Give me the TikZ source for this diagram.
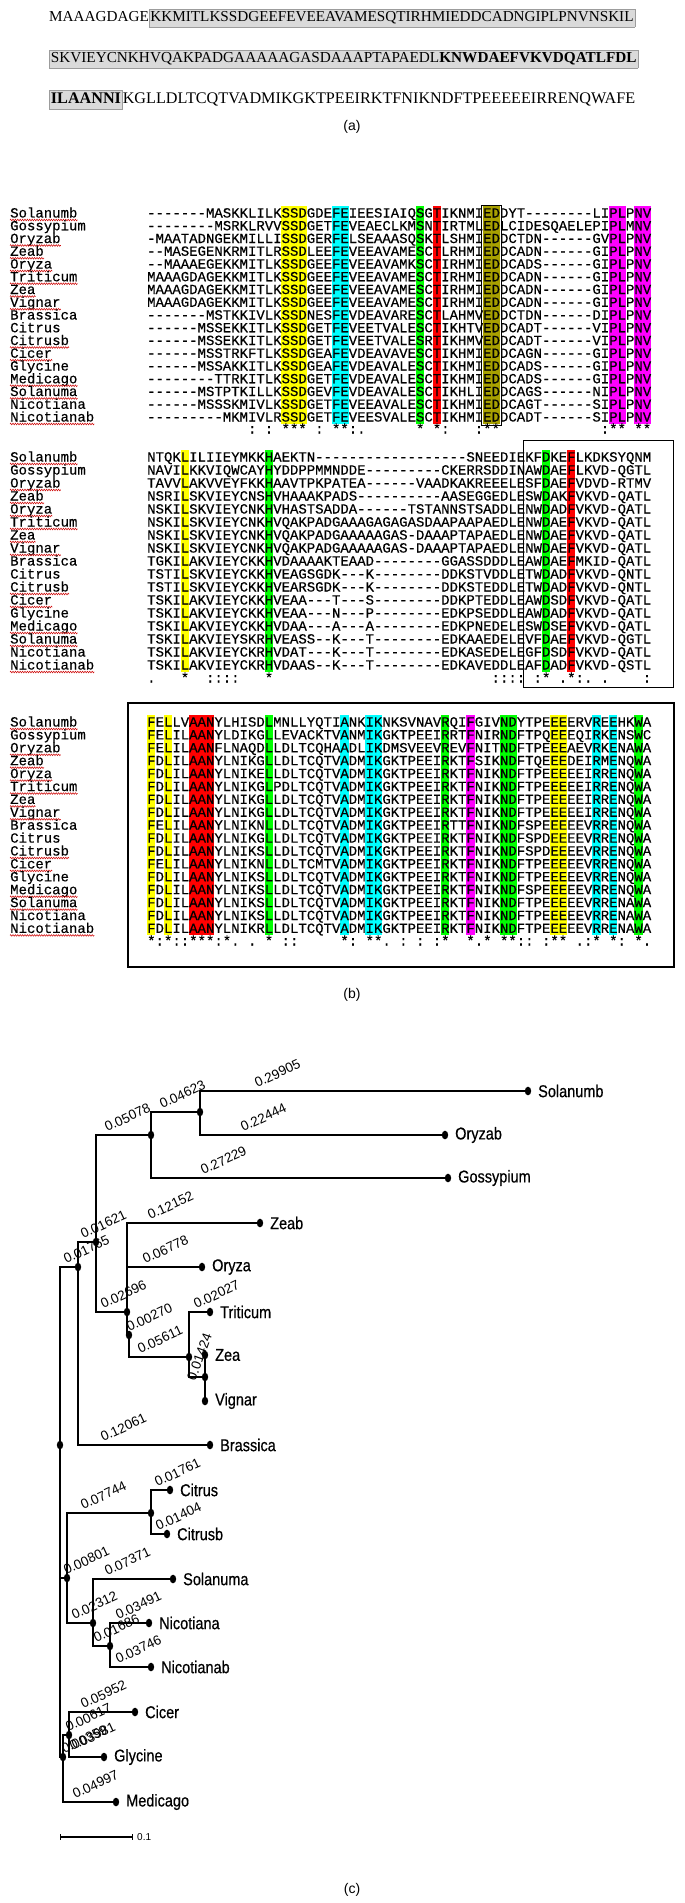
\documentclass[tikz,border=0pt]{standalone}
\usepackage{graphicx}
\usepackage{fontspec}
\setmainfont{Liberation Serif}
\setmonofont{Liberation Mono}[FakeBold=0.35]
\newfontfamily\sansf{Liberation Sans}
\newfontfamily\sansbf{Liberation Sans}[FakeBold=0.6]
\usetikzlibrary{decorations.pathmorphing}
\definecolor{hlgray}{HTML}{DADADA}
\definecolor{bxgray}{HTML}{9C9C9C}
\definecolor{hyel}{HTML}{FFFF00}
\definecolor{hcya}{HTML}{00FFFF}
\definecolor{hgrn}{HTML}{00FF00}
\definecolor{hred}{HTML}{FF0000}
\definecolor{hmag}{HTML}{FF00FF}
\definecolor{holv}{HTML}{A8A000}
\definecolor{sqred}{HTML}{D01010}
\newcommand\hlbox[1]{{\setlength\fboxsep{1pt}\setlength\fboxrule{0.6pt}\fcolorbox{bxgray}{hlgray}{\strut #1}}}
\newcommand\hlc[5]{\fill[#1] ({147+(#2-1)*8.4},#4) rectangle ({147+(#3)*8.4},#5);}
\tikzset{
  seqtxt/.style={anchor=base west, inner sep=0pt, font=\ttfamily\fontsize{14}{14}\selectfont},
  squig/.style={draw=sqred, line width=0.55pt, decorate, decoration={zigzag, amplitude=0.8pt, segment length=2.4pt}},
  sublab/.style={inner sep=0pt, font=\sansf\fontsize{14}{14}\selectfont},
  tree/.style={line width=1.8pt},
  leaflab/.style={anchor=west, xshift=8pt, inner sep=2pt, font=\sansbf\fontsize{14.5}{14.5}\selectfont},
  blab/.style={anchor=south west, rotate=25, inner sep=0.5pt, font=\sansf\fontsize{13.5}{13.5}\selectfont},
  seqline/.style={anchor=base west, inner sep=0pt}
}
\begin{document}
\begin{tikzpicture}[x=1pt,y=-1pt]
\useasboundingbox (0,0) rectangle (685,1903);
\fill[white] (0,0) rectangle (685,1903);

% ---------------- (a) ----------------
\node[seqline] (qa1) at (49,21) {\resizebox{586pt}{!}{\fontsize{15}{15}\selectfont MAAAGDAGE\hlbox{KKMITLKSSDGEEFEVEEAVAMESQTIRHMIEDDCADNGIPLPNVNSKIL}}};
\node[seqline] (qa2) at (49,62) {\resizebox{589pt}{!}{\fontsize{15}{15}\selectfont \hlbox{SKVIEYCNKHVQAKPADGAAAAAGASDAAAPTAPAEDL\textbf{KNWDAEFVKVDQATLFDL}}}};
\node[seqline] (qa3) at (49,103) {\resizebox{586pt}{!}{\fontsize{15}{15}\selectfont \hlbox{\textbf{ILAANNI}}KGLLDLTCQTVADMIKGKTPEEIRKTFNIKNDFTPEEEEEIRRENQWAFE}};
\node[sublab] (laba) at (352,127) {(a)};

% ---------------- (b) block 1 ----------------
\hlc{hyel}{17}{19}{206}{424}
\hlc{hcya}{23}{24}{206}{424}
\hlc{hgrn}{33}{33}{206}{424}
\hlc{hred}{35}{35}{206}{424}
\hlc{holv}{41}{42}{206}{424}
\hlc{hmag}{56}{57}{206}{424}
\hlc{hmag}{59}{60}{206}{424}
\draw[line width=0.9pt] ({147+40*8.4-1.5},205) rectangle ({147+42*8.4+1.5},425);
\foreach \i/\nm/\sq/\u in {
0/Solanumb/-------MASKKLILKSSDGDEFEIEESIAIQSGTIKNMIEDDYT--------LIPLPNV/1,
1/Gossypium/--------MSRKLRVVSSDGETFEVEAECLKMSNTIRTMLEDLCIDESQAELEPIPLMNV/0,
2/Oryzab/-MAATADNGEKMILLISSDGERFELSEAAASQSKTLSHMIEDDCTDN------GVPLPNV/1,
3/Zeab/--MASEGENKRMITLRSSDLEEFEVEEAVAMESCTLRHMIEDDCADN------GIPLPNV/1,
4/Oryza/--MAAAEGEKKMITLKSSDGEEFEVEEAVAMKSCTIRHMIEDDCADS------GIPLPNV/1,
5/Triticum/MAAAGDAGEKKMITLKSSDGEEFEVEEAVAMESCTIRHMIEDDCADN------GIPLPNV/1,
6/Zea/MAAAGDAGEKKMITLKSSDGEEFEVEEAVAMESCTIRHMIEDDCADN------GIPLPNV/1,
7/Vignar/MAAAGDAGEKKMITLKSSDGEEFEVEEAVAMESCTIRHMIEDDCADN------GIPLPNV/1,
8/Brassica/-------MSTKKIVLKSSDNESFEVDEAVARESCTLAHMVEDDCTDN------DIPLPNV/0,
9/Citrus/------MSSEKKITLKSSDGETFEVEETVALESCTIKHTVEDDCADT------VIPLPNV/0,
10/Citrusb/------MSSEKKITLKSSDGETFEVEETVALESRTIKHMVEDDCADT------VIPLPNV/1,
11/Cicer/------MSSTRKFTLKSSDGEAFEVDEAVAVESCTIKHMIEDDCAGN------GIPLPNV/1,
12/Glycine/------MSSAKKITLKSSDGEAFEVDEAVALESCTIKHMIEDDCADS------GIPLPNV/0,
13/Medicago/--------TTRKITLKSSDGETFEVDEAVALESCTIKHMIEDDCADS------GIPLPNV/1,
14/Solanuma/------MSTPTKILLKSSDGEVFEVDEAVALESCTIKHLIEDDCAGS------NIPLPNV/1,
15/Nicotiana/------MSSSKMIVLKSSDGETFEVEEAVALESCTIKHMIEDDCAGT------SIPLPNV/0,
16/Nicotianab/---------MKMIVLRSSDGETFEVEESVALESCTIKHMIEDDCADT------SIPLPNV/1}{
  \pgfmathsetmacro\yy{213+\i*12.75+4.5}
  \node[seqtxt] (aN\i) at (10,\yy) {\nm};
  \node[seqtxt] (aS\i) at (147,\yy) {\sq};
  \ifnum\u=1 \draw[squig] ([yshift=-2.5pt]aN\i.base west) -- ([yshift=-2.5pt]aN\i.base east);\fi
}
\foreach \c/\s [count=\k] in {13/:,15/:,17/***,21/:,23/**:.,33/*,35/*:,40/:**,55/:**,59/**}{
  \node[seqtxt] (aC\k) at ({147+(\c-1)*8.4},433.5) {\s};
}

% ---------------- (b) block 2 ----------------
\hlc{hyel}{5}{5}{450}{672}
\hlc{hgrn}{15}{15}{450}{672}
\hlc{hgrn}{48}{48}{450}{672}
\hlc{hred}{51}{51}{450}{672}
\draw[line width=1pt] (523,440) rectangle (673,687);
\foreach \i/\nm/\sq/\u in {
0/Solanumb/NTQKLILIIEYMKKHAEKTN------------------SNEEDIEKFDKEFLKDKSYQNM/1,
1/Gossypium/NAVILKKVIQWCAYHYDDPPMMNDDE---------CKERRSDDINAWDAEFLKVD-QGTL/0,
2/Oryzab/TAVVLAKVVEYFKKHAAVTPKPATEA------VAADKAKREEELESFDAEFVDVD-RTMV/1,
3/Zeab/NSRILSKVIEYCNSHVHAAAKPADS----------AASEGGEDLESWDAKFVKVD-QATL/1,
4/Oryza/NSKILSKVIEYCNKHVHASTSADDA------TSTANNSTSADDLENWDADFVKVD-QATL/1,
5/Triticum/NSKILSKVIEYCNKHVQAKPADGAAAGAGAGASDAAPAAPAEDLENWDAEFVKVD-QATL/1,
6/Zea/NSKILSKVIEYCNKHVQAKPADGAAAAAGAS-DAAAPTAPAEDLENWDAEFVKVD-QATL/1,
7/Vignar/NSKILSKVIEYCNKHVQAKPADGAAAAAGAS-DAAAPTAPAEDLENWDAEFVKVD-QATL/1,
8/Brassica/TGKILAKVIEYCKKHVDAAAAKTEAAD--------GGASSDDDLEAWDAEFMKID-QATL/0,
9/Citrus/TSTILSKVIEYCKKHVEAGSGDK---K--------DDKSTVDDLETWDADFVKVD-QNTL/0,
10/Citrusb/TSTILSKVIEYCKKHVEARSGDK---K--------DDKSTEDDLETWDADFVKVD-QNTL/1,
11/Cicer/TSKILAKVIEYCKKHVEAA---T---S--------DDKPTEDDLEAWDSDFVKVD-QATL/1,
12/Glycine/TSKILAKVIEYCKKHVEAA---N---P--------EDKPSEDDLEAWDADFVKVD-QATL/0,
13/Medicago/TSKILAKVIEYCKKHVDAA---A---A--------EDKPNEDELESWDSEFVKVD-QATL/1,
14/Solanuma/TSKILAKVIEYSKRHVEASS--K---T--------EDKAAEDELEVFDAEFVKVD-QGTL/1,
15/Nicotiana/TSKILAKVIEYCKRHVDAT---K---T--------EDKASEDELEGFDSDFVKVD-QATL/0,
16/Nicotianab/TSKILAKVIEYCKRHVDAAS--K---T--------EDKAVEDDLEAFDADFVKVD-QSTL/1}{
  \pgfmathsetmacro\yy{457+\i*13+4.5}
  \node[seqtxt] (bN\i) at (10,\yy) {\nm};
  \node[seqtxt] (bS\i) at (147,\yy) {\sq};
  \ifnum\u=1 \draw[squig] ([yshift=-2.5pt]bN\i.base west) -- ([yshift=-2.5pt]bN\i.base east);\fi
}
\foreach \c/\s [count=\k] in {1/.,5/*,8/::::,15/*,42/::::,47/:*,50/.*:.,55/.,60/:}{
  \node[seqtxt] (bC\k) at ({147+(\c-1)*8.4},682.5) {\s};
}

% ---------------- (b) block 3 ----------------
\hlc{hyel}{1}{1}{715}{935}
\hlc{hyel}{3}{3}{715}{935}
\hlc{hred}{6}{8}{715}{935}
\hlc{hgrn}{15}{15}{715}{935}
\hlc{hcya}{24}{24}{715}{935}
\hlc{hcya}{27}{28}{715}{935}
\hlc{hgrn}{36}{36}{715}{935}
\hlc{hmag}{39}{39}{715}{935}
\hlc{hgrn}{43}{44}{715}{935}
\hlc{hyel}{49}{50}{715}{935}
\hlc{hcya}{54}{54}{715}{935}
\hlc{hcya}{56}{56}{715}{935}
\hlc{hgrn}{59}{59}{715}{935}
\draw[line width=1.4pt] (128,703) rectangle (674,967);
\foreach \i/\nm/\sq/\u in {
0/Solanumb/FELLVAANYLHISDLMNLLYQTIANKIKNKSVNAVRQIFGIVNDYTPEEEERVREEHKWA/1,
1/Gossypium/FELILAANYLDIKGLLEVACKTVANMIKGKTPEEIRRTFNIRNDFTPQEEEQIRKENSWC/0,
2/Oryzab/FELILAANFLNAQDLLDLTCQHAADLIKDMSVEEVREVFNITNDFTPEEEAEVRKENAWA/1,
3/Zeab/FDLILAANYLNIKGLLDLTCQTVADMIKGKTPEEIRKTFSIKNDFTQEEEDEIRMENQWA/1,
4/Oryza/FDLILAANYLNIKELLDLTCQTVADMIKGKTPEEIRKTFNIKNDFTPEEEEEIRRENQWA/1,
5/Triticum/FDLILAANYLNIKGLPDLTCQTVADMIKGKTPEEIRKTFNIKNDFTPEEEEEIRRENQWA/1,
6/Zea/FDLILAANYLNIKGLLDLTCQTVADMIKGKTPEEIRKTFNIKNDFTPEEEEEIRRENQWA/1,
7/Vignar/FDLILAANYLNIKGLLDLTCQTVADMIKGKTPEEIRKTFNIKNDFTPEEEEEIRRENQWA/1,
8/Brassica/FELILAANYLNIKNLLDLTCQTVADMIKGKTPEEIRTTFNIKNDFSPEEEEEVRRENQWA/0,
9/Citrus/FDLILAANYLNIKGLLDLTCQTVADMIKGKTPEEIRKTFNIKNDFSPDEEEEVRRENQWA/0,
10/Citrusb/FDLILAANYLNIKSLLDLTCQTVADMIKGKTPEEIRKTFNIKNDFSPDEEEEVRRENQWA/1,
11/Cicer/FELILAANYLNIKNLLDLTCMTVADMIKGKTPEEIRKTFNIKNDFTPEEEEEVRRENQWA/1,
12/Glycine/FDLILAANYLNIKSLLDLTCQTVADMIKGKTPEEIRKTFNIKNDFTPEEEEEVRRENQWA/0,
13/Medicago/FDLILAANYLNIKSLLDLTCQTVADMIKGKTPEEIRKTFNIKNDFSPEEEEEVRRENQWA/1,
14/Solanuma/FDLILAANYLNIKSLLDLTCQTVADMIKGKTPEEIRKTFNIKNDFTPEEEEEVRRENAWA/1,
15/Nicotiana/FDLILAANYLNIKSLLDLTCQTVADMIKGKTPEEIRKTFNIKNDFTPEEEEEVRRENAWA/0,
16/Nicotianab/FDLILAANYLNIKRLLDLTCQTVADMIKGKTPEEIRKTFNIKNDFTPEEEEEVRRENAWA/1}{
  \pgfmathsetmacro\yy{722+\i*12.9+4.5}
  \node[seqtxt] (cN\i) at (10,\yy) {\nm};
  \node[seqtxt] (cS\i) at (147,\yy) {\sq};
  \ifnum\u=1 \draw[squig] ([yshift=-2.5pt]cN\i.base west) -- ([yshift=-2.5pt]cN\i.base east);\fi
}
\foreach \c/\s [count=\k] in {1/*:*::***:*.,13/.,15/*,17/::,24/*:,27/**.,31/:,33/:,35/:*,39/*.*,43/**::,48/:**,52/.:*,56/*:,59/*.}{
  \node[seqtxt] (cC\k) at ({147+(\c-1)*8.4},945.5) {\s};
}
\node[sublab] (labb) at (352,995) {(b)};

% ---------------- (c) tree ----------------
\coordinate (tR) at (60,1445);
\coordinate (tD) at (78,1267);
\coordinate (tC) at (96,1242);
\coordinate (tA) at (151,1135);
\coordinate (tP) at (200,1112);
\coordinate (tJ) at (127,1312);
\coordinate (tK) at (129,1335);
\coordinate (tL) at (189,1357);
\coordinate (tM) at (205,1377);
\coordinate (tE) at (67,1578);
\coordinate (tQ) at (151,1513);
\coordinate (tF) at (93,1623);
\coordinate (tG) at (110,1646);
\coordinate (tI) at (63,1757);
\coordinate (tH) at (69,1735);
\coordinate (lSolanumb) at (528,1091);
\coordinate (lOryzab) at (445,1135);
\coordinate (lGossypium) at (448,1178);
\coordinate (lZeab) at (260,1223);
\coordinate (lOryza) at (202,1267);
\coordinate (lTriticum) at (210,1312);
\coordinate (lZea) at (205,1355);
\coordinate (lVignar) at (205,1401);
\coordinate (lBrassica) at (210,1445);
\coordinate (lCitrus) at (170,1490);
\coordinate (lCitrusb) at (167,1534);
\coordinate (lSolanuma) at (173,1579);
\coordinate (lNicotiana) at (149,1623);
\coordinate (lNicotianab) at (151,1667);
\coordinate (lCicer) at (135,1712);
\coordinate (lGlycine) at (104,1757);
\coordinate (lMedicago) at (116,1802);

\draw[tree] (tR) |- (tD);
\draw[tree] (tR) |- (tE);
\draw[tree] (tR) |- (tI);
\draw[tree] (tD) |- (tC);
\draw[tree] (tD) |- (lBrassica);
\draw[tree] (tC) |- (tA);
\draw[tree] (tC) |- (tJ);
\draw[tree] (tA) |- (tP);
\draw[tree] (tA) |- (lGossypium);
\draw[tree] (tP) |- (lSolanumb);
\draw[tree] (tP) |- (lOryzab);
\draw[tree] (tJ) |- (lZeab);
\draw[tree] (tJ) |- (lOryza);
\draw[tree] (tJ) |- (tK);
\draw[tree] (tK) |- (tL);
\draw[tree] (tL) |- (lTriticum);
\draw[tree] (tL) |- (tM);
\draw[tree] (tM) |- (lZea);
\draw[tree] (tM) |- (lVignar);
\draw[tree] (tE) |- (tQ);
\draw[tree] (tE) |- (tF);
\draw[tree] (tQ) |- (lCitrus);
\draw[tree] (tQ) |- (lCitrusb);
\draw[tree] (tF) |- (lSolanuma);
\draw[tree] (tF) |- (tG);
\draw[tree] (tG) |- (lNicotiana);
\draw[tree] (tG) |- (lNicotianab);
\draw[tree] (tI) |- (tH);
\draw[tree] (tI) |- (lMedicago);
\draw[tree] (tH) |- (lCicer);
\draw[tree] (tH) |- (lGlycine);

\foreach \p in {tR,tD,tC,tA,tP,tJ,tK,tL,tM,tE,tQ,tF,tG,tI,tH,lSolanumb,lOryzab,lGossypium,lZeab,lOryza,lTriticum,lZea,lVignar,lBrassica,lCitrus,lCitrusb,lSolanuma,lNicotiana,lNicotianab,lCicer,lGlycine,lMedicago}{
  \fill (\p) ellipse [x radius=3.2, y radius=4.3];
}
\foreach \p in {Solanumb,Oryzab,Gossypium,Zeab,Oryza,Triticum,Zea,Vignar,Brassica,Citrus,Citrusb,Solanuma,Nicotiana,Nicotianab,Cicer,Glycine,Medicago}{
  \node[leaflab] (ll\p) at (l\p) {\scalebox{1}[1.18]{\p}};
}

\foreach \x/\y/\t [count=\k] in {
257/1089/0.29905, 243/1133/0.22444, 203/1176/0.27229, 162/1110/0.04623,
107/1133/0.05078, 150/1221/0.12152, 145/1265/0.06778, 83/1240/0.01621,
66/1265/0.01765, 103/1310/0.02696, 129/1333/0.00270, 140/1355/0.05611,
196/1310/0.02027, 103/1443/0.12061, 157/1488/0.01761, 83/1511/0.07744,
158/1532/0.01404, 66/1576/0.00801, 107/1577/0.07371, 74/1621/0.02312,
118/1621/0.03491, 96/1644/0.01686, 118/1665/0.03746, 83/1710/0.05952,
68/1733/0.00617, 64/1755/0.00359, 72/1752/0.03981, 75/1800/0.04997}{
  \node[blab] (bl\k) at (\x,\y) {\t};
}
\node[blab, rotate=45] (blz) at (196,1382) {0.01424};

\coordinate (sb1) at (60,1837);
\coordinate (sb2) at (132,1837);
\draw[line width=1.3pt] (sb1) -- (sb2);
\draw[line width=0.8pt] ([yshift=3pt]sb1) -- ([yshift=-3pt]sb1);
\draw[line width=0.8pt] ([yshift=3pt]sb2) -- ([yshift=-3pt]sb2);
\node[anchor=west, inner sep=1pt, font=\sansf\fontsize{10}{10}\selectfont] (sbl) at ([xshift=4pt]sb2) {0.1};

\node[sublab] (labc) at (352,1890) {(c)};
\end{tikzpicture}
\end{document}
